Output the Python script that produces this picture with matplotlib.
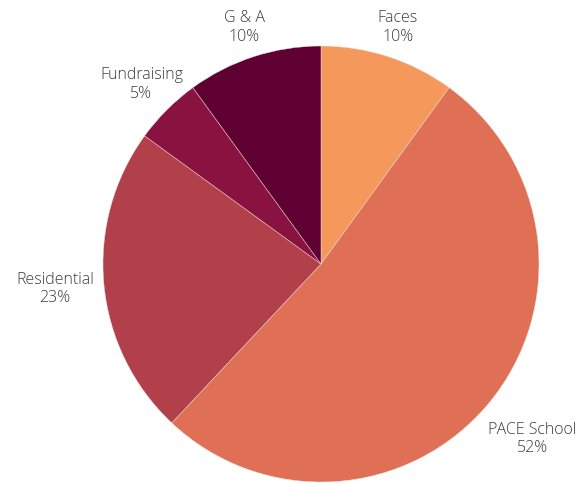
import numpy as np
import matplotlib.pyplot as plt

plt.rcParams['font.family'] = ['Open Sans', 'DejaVu Sans']

# data
categories = ['Faces', 'PACE School', 'Residential', 'Fundraising', 'G & A']
shares = [10, 52, 23, 5, 10]
colors = ['#F4995B', '#E07055', '#B1404A', '#8A1240', '#5F0033']
# how far out each label sits (in radii)
label_dist = [1.14, 1.26, 1.225, 1.165, 1.14]

fig = plt.figure(figsize=(5.86, 4.83), dpi=100)
ax = fig.add_axes([0, 0, 1, 1])

cx, cy, r = 321, 219, 218
wedges, _ = ax.pie(shares, colors=colors, startangle=90,
                   counterclock=False, center=(cx, cy), radius=r,
                   frame=True,
                   wedgeprops=dict(edgecolor='#f4e0e0', linewidth=0.3))

for w, c, s, d in zip(wedges, categories, shares, label_dist):
    ang = np.deg2rad((w.theta1 + w.theta2) / 2)
    ax.text(cx + d * r * np.cos(ang), cy + d * r * np.sin(ang),
            '%s\n%d%%' % (c, s), ha='center', va='center',
            fontsize=11.5, fontweight='light', color='#3c3c3c',
            linespacing=1.2)

ax.set_xlim(0, 586)
ax.set_ylim(0, 483)
ax.set_aspect('equal')
ax.axis('off')

plt.savefig('out.png', dpi=100)
